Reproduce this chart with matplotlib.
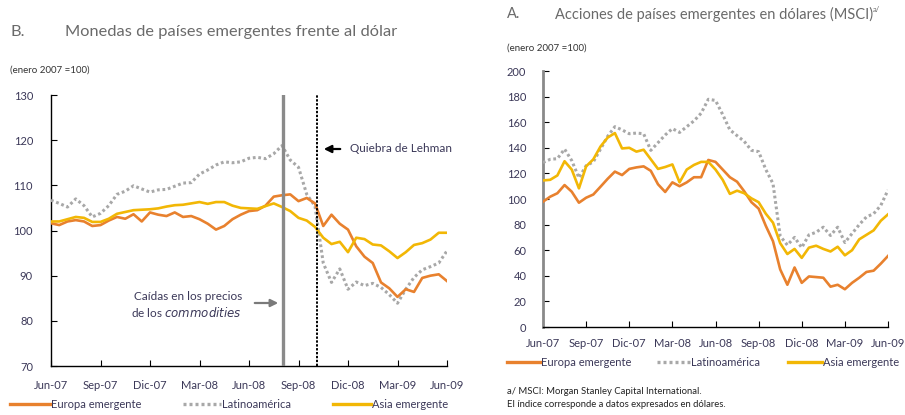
import matplotlib
matplotlib.use('Agg')
import matplotlib.pyplot as plt
from matplotlib.lines import Line2D
from matplotlib.patches import FancyArrowPatch
import numpy as np

plt.rcParams['font.family'] = ['Lato', 'DejaVu Sans']

# ---------------- data ----------------
# months since Jun-07, half-month steps
months = np.arange(0, 24.01, 0.5)
tick_pos = [0, 3, 6, 9, 12, 15, 18, 21, 24]
tick_labels = ['Jun-07', 'Sep-07', 'Dic-07', 'Mar-08', 'Jun-08',
               'Sep-08', 'Dic-08', 'Mar-09', 'Jun-09']

# Panel B: currencies vs dollar (enero 2007 = 100)
fx_europa = [101.6, 101.2, 102.0, 102.3, 102.0, 101.0, 101.2, 102.2, 103.0, 102.6,
             103.6, 102.0, 104.0, 103.5, 103.2, 104.0, 103.0, 103.2, 102.5, 101.5,
             100.2, 101.0, 102.5, 103.5, 104.3, 104.5, 105.5, 107.5, 107.8, 108.0,
             106.5, 107.2, 106.0, 101.0, 103.5, 101.5, 100.2, 96.5, 94.2, 92.8,
             88.5, 87.2, 85.3, 87.0, 86.4, 89.5, 90.0, 90.3, 88.8]
fx_latam = [106.7, 106.0, 105.2, 107.0, 105.5, 103.0, 103.8, 105.5, 108.0, 108.7,
            109.9, 109.2, 108.5, 109.0, 109.1, 109.8, 110.5, 110.6, 112.5, 113.4,
            114.5, 115.2, 115.0, 115.2, 116.0, 116.2, 115.9, 117.0, 118.8, 115.6,
            114.0, 108.0, 105.4, 92.8, 88.5, 91.5, 87.0, 88.6, 87.8, 88.3,
            87.4, 85.8, 83.9, 87.0, 89.6, 91.3, 92.0, 92.8, 95.5]
fx_asia = [102.0, 102.0, 102.5, 103.0, 102.8, 101.9, 101.9, 102.6, 103.7, 104.1,
           104.5, 104.6, 104.7, 104.9, 105.3, 105.6, 105.7, 106.0, 106.3, 105.9,
           106.3, 106.3, 105.5, 105.0, 104.9, 104.8, 105.4, 106.0, 105.2, 104.3,
           102.8, 102.2, 100.8, 98.4, 97.0, 97.5, 95.2, 98.4, 98.1, 96.9,
           96.7, 95.4, 93.9, 95.2, 96.8, 97.2, 98.0, 99.5, 99.5]

# Panel A: MSCI equities in dollars (enero 2007 = 100)
eq_europa = [97.9, 101.8, 104.5, 110.9, 105.7, 97.1, 101.0, 103.5, 109.6, 115.8,
             121.4, 118.7, 123.5, 124.7, 125.5, 122.0, 111.5, 105.5, 113.0, 110.0,
             113.0, 117.0, 117.0, 130.5, 129.0, 123.0, 117.0, 113.5, 106.0, 97.5,
             92.5, 79.0, 67.0, 45.0, 33.0, 46.5, 34.5, 39.5, 39.0, 38.5,
             31.5, 33.0, 29.5, 34.5, 38.5, 43.0, 44.0, 49.5, 55.5]
eq_latam = [128.5, 131.0, 131.5, 139.0, 130.0, 116.5, 126.0, 129.0, 139.0, 149.0,
            156.5, 154.0, 151.0, 151.5, 151.0, 138.0, 144.0, 150.0, 155.0, 152.0,
            156.5, 161.0, 167.0, 177.9, 177.0, 166.0, 154.0, 149.5, 145.0, 138.0,
            137.0, 123.0, 112.0, 71.0, 64.0, 70.0, 62.0, 72.0, 74.0, 78.0,
            71.5, 78.0, 66.0, 73.0, 80.0, 86.0, 88.5, 95.0, 107.0]
eq_asia = [114.5, 115.0, 118.4, 129.5, 123.0, 108.3, 125.5, 131.0, 141.0, 148.0,
           151.5, 139.5, 140.0, 137.0, 138.5, 131.0, 123.5, 125.0, 127.0, 113.0,
           123.0, 126.6, 129.0, 129.0, 123.0, 115.0, 104.0, 106.5, 104.5, 100.5,
           97.5, 88.5, 81.5, 65.5, 57.0, 61.0, 54.0, 62.0, 63.5, 61.0,
           59.0, 62.7, 56.0, 60.0, 68.5, 72.0, 75.5, 83.0, 88.0]

series_names = ['Europa emergente', 'Latinoamérica', 'Asia emergente']

# event markers (months since Jun-07)
commodities_event = 14.06
lehman_event = 16.12

# ---------------- style ----------------
W, H = 905, 415
C_EUR = '#E8812E'
C_LAT = '#A8A8A8'
C_ASIA = '#F2B705'
TXT = '#3b3858'
TITLE = '#6a6a6a'
DOT = (0, (0.9, 0.9))

def fx(x):
    return x / W

def fy(y):
    return 1 - y / H

fig = plt.figure(figsize=(W / 100, H / 100), dpi=100)

def style_axes(ax, ylim, yticks, ypad, xpad, left_color='black', left_lw=1.0):
    ax.set_xlim(0, 24)
    ax.set_ylim(*ylim)
    ax.set_yticks(yticks)
    ax.set_xticks(tick_pos)
    ax.set_xticklabels(tick_labels)
    for s in ['top', 'right']:
        ax.spines[s].set_visible(False)
    ax.spines['left'].set_color(left_color)
    ax.spines['left'].set_linewidth(left_lw)
    ax.spines['bottom'].set_linewidth(1.0)
    ax.tick_params(axis='y', direction='in', length=4, pad=ypad,
                   labelsize=8, labelcolor=TXT)
    ax.tick_params(axis='x', direction='in', length=4, pad=xpad,
                   labelsize=8, labelcolor=TXT)

def plot_series(ax, eur, lat, asia):
    ax.plot(months, lat, color=C_LAT, lw=2.2, linestyle=DOT,
            dash_capstyle='butt', zorder=3)
    ax.plot(months, eur, color=C_EUR, lw=1.9, zorder=4)
    ax.plot(months, asia, color=C_ASIA, lw=1.9, zorder=5)

# ---- Panel B (left) ----
axB = fig.add_axes([fx(51), fy(366), fx(396), 271 / H])
style_axes(axB, (70, 130), range(70, 131, 10), ypad=13, xpad=10)
plot_series(axB, fx_europa, fx_latam, fx_asia)
axB.axvline(commodities_event, color='#8a8a8a', lw=2.4, zorder=6)
axB.axvline(lehman_event, color='black', lw=1.4, linestyle=(0, (1.2, 0.8)), zorder=6)

fig.text(fx(10), fy(32), 'B.', fontsize=11.8, color=TITLE, va='center')
fig.text(fx(65), fy(32), 'Monedas de países emergentes frente al dólar',
         fontsize=11.8, color=TITLE, va='center')
fig.text(fx(10), fy(70), '(enero 2007 =100)', fontsize=7, color='#333333', va='center')

# annotations
fig.text(fx(350), fy(149), 'Quiebra de Lehman', fontsize=8.5, color=TXT, va='center')
fig.add_artist(FancyArrowPatch(
    (fx(343), fy(149)), (fx(321), fy(149)), transform=fig.transFigure,
    arrowstyle='-|>', mutation_scale=11, color='black', lw=1.6))
fig.text(fx(242), fy(296), 'Caídas en los precios', fontsize=8.5, color=TXT,
         va='center', ha='right')
fig.text(fx(242), fy(312), r'de los $\it{commodities}$', fontsize=8.5, color=TXT,
         va='center', ha='right')
fig.add_artist(FancyArrowPatch(
    (fx(252), fy(303)), (fx(281), fy(303)), transform=fig.transFigure,
    arrowstyle='-|>', mutation_scale=11, color='#7a7a7a', lw=1.6))

# ---- Panel A (right) ----
axA = fig.add_axes([fx(543), fy(327), fx(345), 256 / H])
style_axes(axA, (0, 200), range(0, 201, 20), ypad=12, xpad=8,
           left_color='#8a8a8a', left_lw=2.0)
plot_series(axA, eq_europa, eq_latam, eq_asia)

fig.text(fx(507), fy(14), 'A.', fontsize=10.5, color=TITLE, va='center')
fig.text(fx(555), fy(14), 'Acciones de países emergentes en dólares (MSCI)',
         fontsize=10.5, color=TITLE, va='center')
fig.text(fx(873), fy(10), 'a/', fontsize=5.5, color=TITLE, va='center')
fig.text(fx(507), fy(48), '(enero 2007 =100)', fontsize=7, color='#333333', va='center')

# ---- legends (manual, figure coords) ----
def legend_item(x0, x1, y, color, style, label, lw):
    fig.add_artist(Line2D([fx(x0), fx(x1)], [fy(y), fy(y)], transform=fig.transFigure,
                          color=color, lw=lw, linestyle=style, dash_capstyle='butt'))
    fig.text(fx(x1 + 1), fy(y), label, fontsize=8, color=TXT, va='center')

legend_item(10, 50, 404, C_EUR, '-', series_names[0], 2.4)
legend_item(183, 221, 404, C_LAT, DOT, series_names[1], 2.4)
legend_item(333, 371, 404, C_ASIA, '-', series_names[2], 2.4)

legend_item(507, 540, 362, C_EUR, '-', series_names[0], 2.4)
legend_item(657, 690, 362, C_LAT, DOT, series_names[1], 2.4)
legend_item(788, 822, 362, C_ASIA, '-', series_names[2], 2.4)

fig.text(fx(507), fy(391), 'a/ MSCI: Morgan Stanley Capital International.',
         fontsize=6.8, color='#222222', va='center')
fig.text(fx(507), fy(404), 'El índice corresponde a datos expresados en dólares.',
         fontsize=6.8, color='#222222', va='center')

fig.savefig('out.png', dpi=100, facecolor='white')
